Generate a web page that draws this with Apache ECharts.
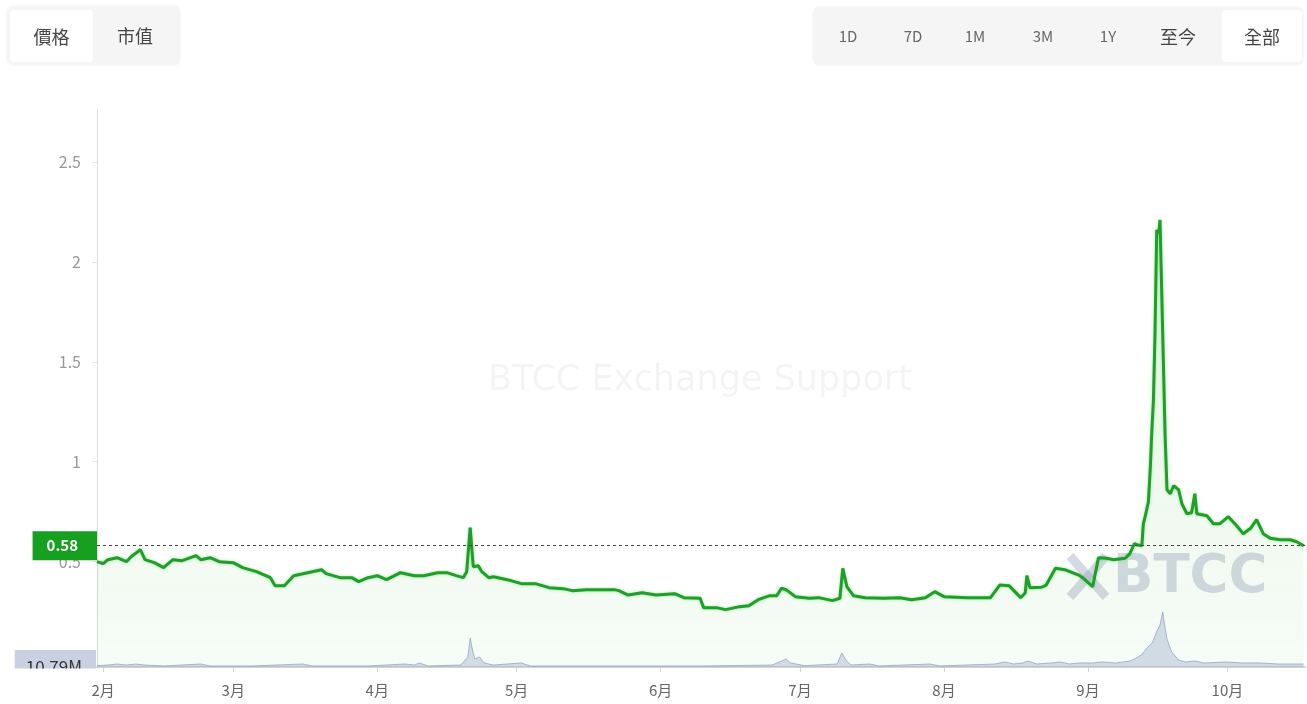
<!DOCTYPE html>
<html><head><meta charset="utf-8">
<script src="https://cdn.jsdelivr.net/npm/echarts@6/dist/echarts.min.js"></script>
<style>
html,body{margin:0;padding:0;background:#fff;width:1307px;height:704px;overflow:hidden;font-family:'Noto Sans CJK TC','Noto Sans',sans-serif;}
#chart{position:absolute;left:0;top:0;width:1307px;height:704px;}
.grp{position:absolute;background:#f5f5f5;border-radius:6px;box-shadow:0 0 3px rgba(0,0,0,0.06);z-index:5;}
.btn{position:absolute;top:0;height:58px;line-height:58px;text-align:center;color:#666;font-size:15px;}
.cjk{font-size:18px;color:#444;}
.act{background:#fff;border-radius:4px;top:3px;height:52px;line-height:52px;}
</style></head>
<body>
<div id="chart"></div>
<div class="grp" style="left:7px;top:6px;width:173px;height:59px;">
  <div class="btn cjk act" style="left:3px;width:83px;top:4px;">價格</div>
  <div class="btn cjk" style="left:100px;width:56px;height:59px;line-height:59px;">市值</div>
</div>
<div class="grp" style="left:813px;top:7px;width:490px;height:58px;">
  <div class="btn" style="left:5px;width:60px;">1D</div>
  <div class="btn" style="left:70px;width:60px;">7D</div>
  <div class="btn" style="left:132px;width:60px;">1M</div>
  <div class="btn" style="left:200px;width:60px;">3M</div>
  <div class="btn" style="left:265px;width:60px;">1Y</div>
  <div class="btn cjk" style="left:335px;width:60px;">至今</div>
  <div class="btn cjk act" style="left:409px;width:80px;">全部</div>
</div>
<script>
const priceDates = [
'2023-01-30 16:00','2023-02-01','2023-02-02','2023-02-04','2023-02-06','2023-02-07','2023-02-09','2023-02-10','2023-02-12','2023-02-14',
'2023-02-16','2023-02-18','2023-02-21','2023-02-22','2023-02-24','2023-02-26','2023-03-01','2023-03-03','2023-03-06','2023-03-09',
'2023-03-10','2023-03-12','2023-03-14','2023-03-16','2023-03-18','2023-03-20','2023-03-21','2023-03-24','2023-03-26 12:00','2023-03-28',
'2023-03-30','2023-04-01','2023-04-03','2023-04-06','2023-04-09','2023-04-11','2023-04-14','2023-04-16','2023-04-18','2023-04-19 12:00',
'2023-04-20 06:00','2023-04-21 00:00','2023-04-21 16:00','2023-04-22 18:00','2023-04-23 12:00','2023-04-25','2023-04-26','2023-04-29','2023-05-02','2023-05-05',
'2023-05-08','2023-05-11','2023-05-13','2023-05-16','2023-05-19','2023-05-22','2023-05-23','2023-05-25','2023-05-28','2023-05-31',
'2023-06-04','2023-06-06','2023-06-09 12:00','2023-06-10 06:00','2023-06-13','2023-06-15','2023-06-18','2023-06-20','2023-06-22','2023-06-24 12:00',
'2023-06-26','2023-06-27','2023-06-28','2023-06-30','2023-07-03','2023-07-05','2023-07-08','2023-07-09 14:00','2023-07-10 05:00','2023-07-11 02:00',
'2023-07-12 12:00','2023-07-15','2023-07-19','2023-07-22 12:00','2023-07-25','2023-07-28','2023-07-30','2023-08-01','2023-08-06','2023-08-11',
'2023-08-13','2023-08-15','2023-08-17 12:00','2023-08-18 12:00','2023-08-18 20:00','2023-08-19 12:00','2023-08-22','2023-08-23','2023-08-25','2023-08-27',
'2023-08-30','2023-08-31','2023-09-02','2023-09-03 06:00','2023-09-05','2023-09-06 12:00','2023-09-09','2023-09-10','2023-09-11','2023-09-11 12:00',
'2023-09-12 14:00','2023-09-12 22:00','2023-09-13 07:00','2023-09-14 00:00','2023-09-14 10:00','2023-09-14 17:00','2023-09-15 02:00','2023-09-15 10:00','2023-09-15 19:00','2023-09-16 05:00',
'2023-09-16 12:00','2023-09-16 17:00','2023-09-17 02:00','2023-09-17 14:00','2023-09-18 00:00','2023-09-18 17:00','2023-09-19 10:00','2023-09-20 12:00','2023-09-21 05:00','2023-09-22 07:00',
'2023-09-23 07:00','2023-09-24 00:00','2023-09-24 10:00','2023-09-26 14:00','2023-09-28','2023-09-29 10:00','2023-10-01 05:00','2023-10-03','2023-10-04 10:00','2023-10-06',
'2023-10-07 07:00','2023-10-08 17:00','2023-10-10 05:00','2023-10-12 10:00','2023-10-14 12:00','2023-10-15 22:00','2023-10-17 10:00'
];
const priceValues = [
0.50,0.49,0.51,0.52,0.50,0.525,0.56,0.51,0.495,0.47,
0.51,0.505,0.53,0.51,0.52,0.50,0.495,0.47,0.45,0.42,
0.38,0.38,0.43,0.44,0.45,0.46,0.44,0.42,0.42,0.40,
0.42,0.43,0.41,0.445,0.43,0.43,0.445,0.445,0.43,0.42,
0.45,0.67,0.475,0.48,0.45,0.42,0.425,0.41,0.39,0.39,
0.37,0.365,0.355,0.36,0.36,0.36,0.355,0.333,0.345,0.333,
0.34,0.32,0.317,0.27,0.27,0.26,0.275,0.28,0.31,0.33,
0.33,0.367,0.36,0.325,0.317,0.32,0.305,0.317,0.467,0.375,
0.33,0.32,0.317,0.32,0.31,0.32,0.35,0.325,0.32,0.32,
0.383,0.38,0.32,0.345,0.43,0.37,0.372,0.383,0.467,0.46,
0.433,0.417,0.375,0.52,0.517,0.51,0.517,0.54,0.59,0.585,
0.58,0.69,0.725,0.80,0.975,1.14,1.31,1.64,2.16,2.14,
2.21,2.22,1.64,1.14,0.86,0.84,0.88,0.86,0.79,0.74,
0.745,0.84,0.74,0.73,0.69,0.69,0.725,0.68,0.64,0.667,
0.71,0.64,0.617,0.61,0.61,0.60,0.58
];
const volumeDates = [
'2023-01-30 16:00','2023-02-02','2023-02-04','2023-02-06','2023-02-08','2023-02-10','2023-02-14','2023-02-22','2023-02-24','2023-03-05',
'2023-03-16','2023-03-18','2023-03-30','2023-04-07','2023-04-09','2023-04-10','2023-04-12','2023-04-19','2023-04-20 12:00','2023-04-21',
'2023-04-21 12:00','2023-04-22','2023-04-23','2023-04-24','2023-04-26','2023-05-02','2023-05-04','2023-05-20','2023-06-10','2023-06-25',
'2023-06-27','2023-06-28','2023-06-29','2023-07-02','2023-07-09','2023-07-10','2023-07-11','2023-07-12','2023-07-16','2023-07-18',
'2023-07-29','2023-07-31','2023-08-12','2023-08-14','2023-08-16','2023-08-18','2023-08-19','2023-08-21','2023-08-24','2023-08-26',
'2023-08-28','2023-08-30','2023-09-02','2023-09-04','2023-09-07','2023-09-10','2023-09-11','2023-09-12 12:00','2023-09-13 12:00','2023-09-14 22:00',
'2023-09-15 18:00','2023-09-16 12:00','2023-09-17 02:00','2023-09-17 12:00','2023-09-18','2023-09-19','2023-09-20 12:00','2023-09-22','2023-09-24','2023-09-26',
'2023-10-01','2023-10-04','2023-10-08','2023-10-12','2023-10-17 10:00'
];
const volumeValues = [
25,37,56,37,56,37,19,56,19,19,
56,19,19,56,37,75,19,37,187,542,
318,150,187,75,37,75,19,19,19,37,
112,150,75,25,56,262,112,37,56,19,
56,19,56,94,56,75,112,56,75,94,
56,75,75,94,75,112,150,224,337,468,
655,785,1028,785,524,281,131,94,112,75,
94,75,75,56,56
];
const priceTickValues = [0.5, 1, 1.5, 2, 2.5];
const monthStarts = ['2023-02-01','2023-03-01','2023-04-01','2023-05-01','2023-06-01','2023-07-01','2023-08-01','2023-09-01','2023-10-01'];
const lastPrice = 0.58;
const lastVolume = 10.79;
const lastVolumeText = '10.79M';
const watermarkText = 'BTCC Exchange Support';
const logoText = 'BTCC';

const ts = s => +echarts.time.parse(s);
const xMin = ts('2023-01-30 16:00');
const xMax = ts('2023-10-17 17:00');
const monthTs = monthStarts.map(ts);
const priceData = priceDates.map((d, i) => [ts(d), priceValues[i]]);
const volumeData = volumeDates.map((d, i) => [ts(d), volumeValues[i]]);
const monthFmt = v => (new Date(v).getMonth() + 1) + '月';
const FONT = "'Noto Sans CJK TC','Noto Sans',sans-serif";

const chart = echarts.init(document.getElementById('chart'), null, {renderer: 'canvas'});
chart.setOption({
  animation: false,
  textStyle: {fontFamily: FONT},
  grid: [
    {left: 97, right: 2, top: 110, bottom: 37},
    {left: 97, right: 2, top: 560, bottom: 37}
  ],
  xAxis: [
    {type: 'value', gridIndex: 0, min: xMin, max: xMax, show: false, splitLine: {show: false}},
    {type: 'value', gridIndex: 1, min: xMin, max: xMax,
     axisLine: {show: true, lineStyle: {color: '#d4d4d4', width: 2}},
     axisTick: {show: true, customValues: monthTs, length: 5, lineStyle: {color: '#d4d4d4'}},
     axisLabel: {customValues: monthTs, formatter: monthFmt, color: '#666', fontSize: 15, margin: 16, fontFamily: FONT},
     splitLine: {show: false}}
  ],
  yAxis: [
    {type: 'value', gridIndex: 0, min: -0.027, max: 2.76,
     axisLine: {show: true, lineStyle: {color: '#dcdcdc'}},
     axisTick: {show: true, customValues: priceTickValues, length: 5, lineStyle: {color: '#e4e4e4'}},
     axisLabel: {customValues: priceTickValues, color: '#999', fontSize: 16, margin: 16, fontFamily: FONT},
     splitLine: {show: false}},
    {type: 'value', gridIndex: 1, min: 0, max: 2000, show: false, splitLine: {show: false}}
  ],
  graphic: [
    {type: 'text', x: 700, y: 381, z: -1, silent: true,
     style: {text: watermarkText, align: 'center', verticalAlign: 'middle', fontSize: 35, fontFamily: 'DejaVu Sans', fill: 'rgba(0,0,0,0.045)'}},
    {type: 'line', z: -1, silent: true, shape: {x1: 1070, y1: 556, x2: 1106, y2: 597}, style: {stroke: 'rgba(140,150,185,0.36)', lineWidth: 9}},
    {type: 'line', z: -1, silent: true, shape: {x1: 1106, y1: 556, x2: 1070, y2: 597}, style: {stroke: 'rgba(140,150,185,0.36)', lineWidth: 9}},
    {type: 'text', x: 1113, y: 578, z: -1, silent: true,
     style: {text: logoText, align: 'left', verticalAlign: 'middle', fontSize: 53, fontWeight: 'bold', fontFamily: 'DejaVu Sans', fill: 'rgba(140,150,185,0.36)'}},
    {type: 'rect', z: 100, zlevel: 1, silent: true, shape: {x: 0, y: 668.5, width: 96, height: 16}, style: {fill: '#fff'}}
  ],
  series: [
    {
      type: 'line', name: 'volume', xAxisIndex: 1, yAxisIndex: 1, data: volumeData,
      showSymbol: false, silent: true, z: 2,
      lineStyle: {color: 'rgba(150,160,200,0.75)', width: 1},
      areaStyle: {color: 'rgba(165,175,212,0.6)'},
      markLine: {
        silent: true, symbol: ['none', 'none'],
        lineStyle: {color: 'rgba(0,0,0,0)', width: 1, type: 'solid'},
        data: [{yAxis: lastVolume}],
        label: {show: true, position: 'start', distance: 1, formatter: lastVolumeText, color: '#333', fontSize: 17,
                backgroundColor: '#c9d0e2', padding: [8, 14, 8, 11], fontFamily: FONT}
      }
    },
    {
      type: 'line', name: 'price', xAxisIndex: 0, yAxisIndex: 0, data: priceData,
      showSymbol: false, silent: true, z: 3,
      lineStyle: {color: '#1f9e29', width: 3, shadowColor: 'rgba(60,200,60,0.5)', shadowBlur: 3},
      areaStyle: {origin: 'start', color: new echarts.graphic.LinearGradient(0, 0, 0, 1, [
        {offset: 0, color: 'rgba(40,175,40,0.16)'},
        {offset: 1, color: 'rgba(40,175,40,0.06)'}
      ])},
      markLine: {
        silent: true, symbol: ['none', 'none'],
        lineStyle: {color: '#444', type: [3, 3], width: 1},
        data: [{yAxis: lastPrice}],
        label: {position: 'start', distance: 0, formatter: String(lastPrice), color: '#fff', fontSize: 15, fontWeight: 'bold',
                backgroundColor: '#17a01f', padding: [7, 19, 7, 14], fontFamily: FONT}
      }
    }
  ]
});
</script>
</body></html>
